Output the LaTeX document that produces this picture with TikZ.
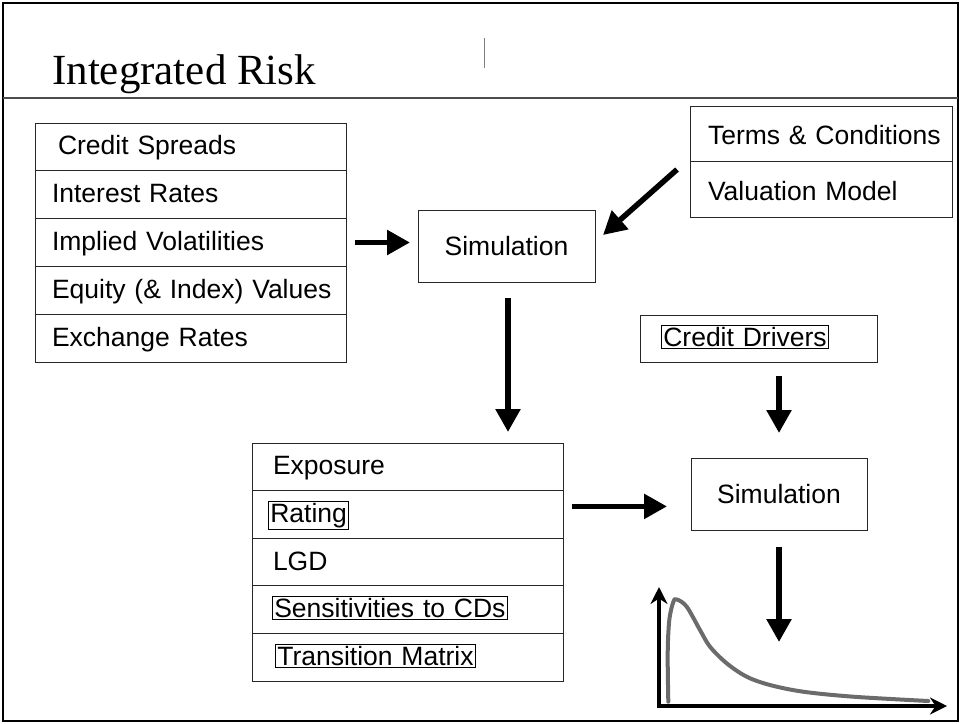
\documentclass[tikz,border=0pt]{standalone}
\usepackage{fontspec}
\setmainfont{Liberation Serif}
\newfontfamily\arial{Liberation Sans}
\usetikzlibrary{positioning,calc,arrows.meta}

\newcommand{\slidefont}{\arial\fontsize{26.5}{30}\selectfont}
\newcommand{\ind}[1]{\hspace*{#1pt}}
\newcommand{\boxtxt}[1]{{\setlength{\fboxsep}{1.5pt}\setlength{\fboxrule}{0.8pt}\fbox{#1}}}

\tikzset{
  rowbox/.style={draw=black!85, line width=1pt, outer sep=0pt, inner sep=0pt,
    align=left, text height=20pt, text depth=4pt, font=\slidefont},
  leftrow/.style={rowbox, text width=311pt, minimum height=47.8pt},
  termrow/.style={rowbox, text width=262pt, minimum height=55.5pt, text height=23pt, text depth=1pt},
  midrow/.style={rowbox, text width=311pt, minimum height=47.6pt},
  simbox/.style={draw=black!85, line width=1pt, outer sep=0pt, minimum width=177pt,
    minimum height=72pt, font=\slidefont},
  bigarrow/.style={line width=5.5pt, -{Triangle[length=23pt,width=24pt]}},
  axis/.style={line width=3.5pt, -{Stealth[length=17pt,width=17pt]}}
}

\begin{document}
\begin{tikzpicture}[x=1pt,y=-1pt]
    \useasboundingbox (0,0) rectangle (960,723);
    % slide frame and title
    \draw[line width=2.5pt] (3,3) rectangle (958,721);
    \draw[line width=1.5pt, black!70] (3,98) -- (958,98);
    \draw[line width=1pt, gray] (484,38) -- (484,68);
    \node[anchor=base west, inner sep=0pt, font=\fontsize{43}{48}\selectfont] (title) at (52,84) {Integrated Risk};

    % market data
    \node[leftrow, anchor=north west] (spreads) at (35,123) {\ind{23}Credit Spreads};
    \node[leftrow, below=0pt of spreads] (rates) {\ind{17}Interest Rates};
    \node[leftrow, below=0pt of rates] (vols) {\ind{17}Implied Volatilities};
    \node[leftrow, below=0pt of vols] (equity) {\ind{17}Equity (\& Index) Values};
    \node[leftrow, below=0pt of equity] (fx) {\ind{17}Exchange Rates};

    % instruments
    \node[termrow, anchor=north west] (terms) at (690,106) {\ind{18}Terms \& Conditions};
    \node[termrow, below=0pt of terms] (valmodel) {\ind{18}Valuation Model};

    \node[simbox, anchor=north west] (sim1) at (418,210) {Simulation};

    % exposure block
    \node[midrow, anchor=north west] (expo) at (252,443) {\ind{21}Exposure};
    \node[midrow, below=0pt of expo] (rating) {\ind{16}\boxtxt{Rating}};
    \node[midrow, below=0pt of rating] (lgd) {\ind{21}LGD};
    \node[midrow, below=0pt of lgd] (sens) {\ind{20}\boxtxt{Sensitivities to CDs}};
    \node[midrow, below=0pt of sens] (trans) {\ind{23}\boxtxt{Transition Matrix}};

    \node[rowbox, text width=237pt, minimum height=47pt, anchor=north west] (drivers) at (640,315) {\ind{21}\boxtxt{Credit Drivers}};
    \node[simbox, minimum width=176pt, anchor=north west] (sim2) at (691,458) {Simulation};

    % flow
    \draw[bigarrow] ($(vols.east)+(9,0)$) -- ($(sim1.west |- vols.east)+(-8,0)$);
    \draw[bigarrow] ($(valmodel.north west)+(-13,8)$) -- ($(sim1.north east)+(8,25)$);
    \draw[bigarrow] ($(sim1.south)+(1.5,16)$) -- ($(sim1.south |- expo.north)+(1.5,-11)$);
    \draw[bigarrow] ($(rating.east)+(9,-8)$) -- ($(sim2.west |- rating.east)+(-24,-8)$);
    \draw[bigarrow] ($(sim2.north |- drivers.south)+(0,14)$) -- ($(sim2.north)+(0,-25)$);
    \draw[bigarrow] ($(sim2.south)+(0,17)$) -- ($(sim2.south)+(0,112)$);

    % loss distribution
    \coordinate (origin) at (659,706);
    \draw[axis] ($(origin)+(0,2)$) -- ($(origin)+(0,-119)$);
    \draw[axis] ($(origin)+(-1.75,0)$) -- ($(origin)+(288,0)$);
    \draw[line width=4pt, black!58, line cap=round] plot[smooth, tension=0.55] coordinates
      {(668.3,701.7) (667.7,653) (669.3,620) (673.3,602) (677,599.5) (686.7,606.7) (700,630)
       (710,646.7) (726.7,663.3) (746.7,676.7) (770,685) (803.3,691.7) (853.3,696.7) (928.3,701)};
\end{tikzpicture}
\end{document}
